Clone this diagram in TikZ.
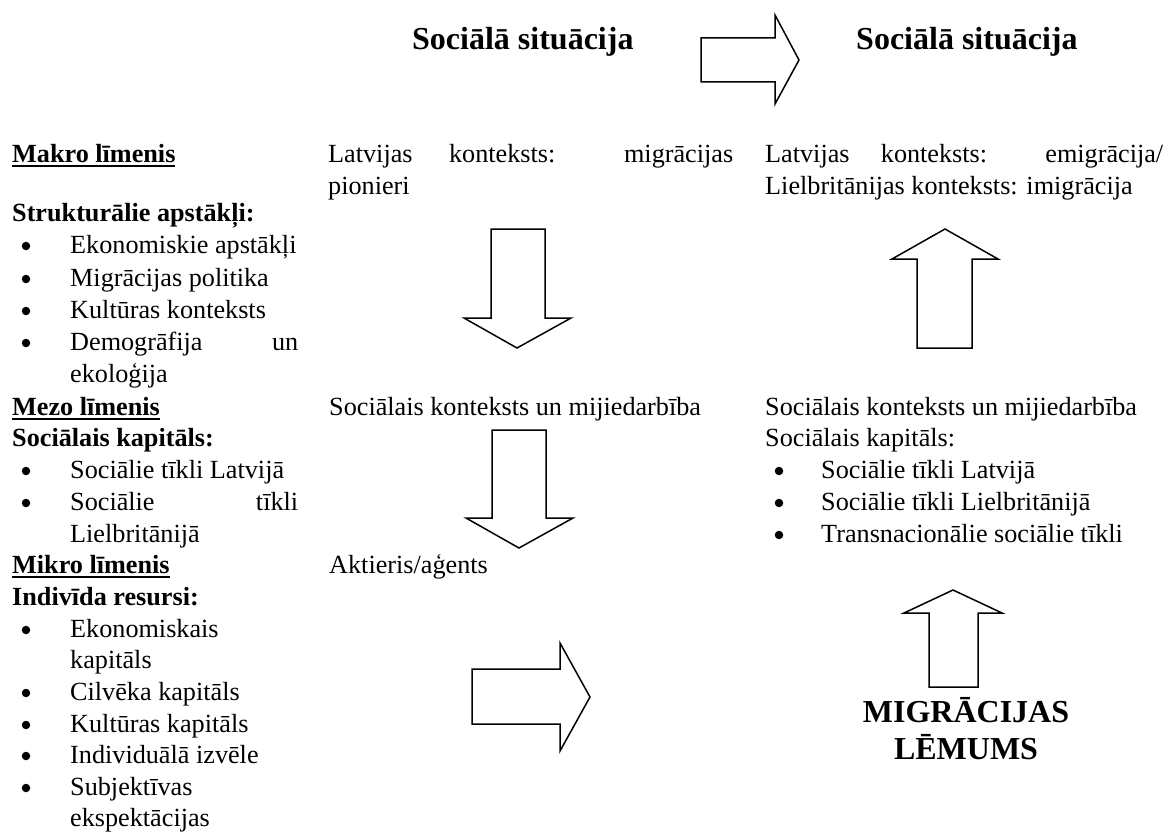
\documentclass[tikz,border=0pt]{standalone}
\usepackage{fontspec}
\setmainfont{Liberation Serif}
\newcommand\myul[1]{\sbox0{#1}\rlap{\rule[-5pt]{\wd0}{2pt}}\usebox0}
\begin{document}
\begin{tikzpicture}[x=1pt,y=-1pt,
  txt/.style={anchor=base west, inner sep=0pt, font=\fontsize{26.2}{32}\selectfont},
  hd/.style={anchor=base west, inner sep=0pt, font=\fontsize{26.2}{32}\selectfont\bfseries},
  bul/.style={circle, fill=black, inner sep=0pt, minimum size=8.5pt},
  ttl/.style={anchor=base west, inner sep=0pt, font=\fontsize{32}{38}\selectfont\bfseries},
  big/.style={anchor=base, inner sep=0pt, font=\fontsize{32}{37}\selectfont\bfseries},
  blockarrow/.style={draw=black, line width=1.5pt, fill=white, line join=miter}]
\useasboundingbox[fill=white] (0,0) rectangle (1172,832);

% titles
\node[ttl] (t1) at (412,50) {Sociālā situācija};
\node[ttl] (t2) at (856,50) {Sociālā situācija};

% left column
\node[hd] (makro) at (12,162) {\myul{Makro līmenis}};
\node[hd] (strukt) at (12,221) {Strukturālie apstākļi:};
\node[bul] (b1) at (26,246) {}; \node[txt] (l1) at (70,253) {Ekonomiskie apstākļi};
\node[bul] (b2) at (26,279) {}; \node[txt] (l2) at (70,286) {Migrācijas politika};
\node[bul] (b3) at (26,311) {}; \node[txt] (l3) at (70,318) {Kultūras konteksts};
\node[bul] (b4) at (26,343) {}; \node[txt] (l4) at (70,350) {\makebox[228pt][s]{Demogrāfija un}};
\node[txt] (l4b) at (70,382) {ekoloģija};
\node[hd] (mezo) at (12,415) {\myul{Mezo līmenis}};
\node[hd] (sockap) at (12,446) {Sociālais kapitāls:};
\node[bul] (b5) at (26,471) {}; \node[txt] (l5) at (70,478) {Sociālie tīkli Latvijā};
\node[bul] (b6) at (26,503) {}; \node[txt] (l6) at (70,510) {\makebox[228pt][s]{Sociālie tīkli}};
\node[txt] (l6b) at (70,542) {Lielbritānijā};
\node[hd] (mikro) at (12,573) {\myul{Mikro līmenis}};
\node[hd] (indiv) at (12,605) {Indivīda resursi:};
\node[bul] (b7) at (26,630) {}; \node[txt] (l7) at (70,637) {Ekonomiskais};
\node[txt] (l7b) at (70,668) {kapitāls};
\node[bul] (b8) at (26,693) {}; \node[txt] (l8) at (70,700) {Cilvēka kapitāls};
\node[bul] (b9) at (26,725) {}; \node[txt] (l9) at (70,732) {Kultūras kapitāls};
\node[bul] (b10) at (26,756) {}; \node[txt] (l10) at (70,763) {Individuālā izvēle};
\node[bul] (b11) at (26,788) {}; \node[txt] (l11) at (70,795) {Subjektīvas};
\node[txt] (l11b) at (70,826) {ekspektācijas};

% middle column
\node[txt] (m1) at (328,162) {\makebox[405pt][s]{Latvijas konteksts: migrācijas}};
\node[txt] (m1b) at (328,194) {pionieri};
\node[txt] (m2) at (329,415) {Sociālais konteksts un mijiedarbība};
\node[txt] (m3) at (329,573) {Aktieris/aģents};

% right column
\node[txt] (r1) at (765,162) {\makebox[398pt][s]{Latvijas konteksts: emigrācija/}};
\node[txt] (r1b) at (765,194) {Lielbritānijas konteksts: imigrācija};
\node[txt] (r2) at (765,415) {Sociālais konteksts un mijiedarbība};
\node[txt] (r3) at (765,446) {Sociālais kapitāls:};
\node[bul] (rb1) at (779,471) {}; \node[txt] (r4) at (821,478) {Sociālie tīkli Latvijā};
\node[bul] (rb2) at (779,503) {}; \node[txt] (r5) at (821,510) {Sociālie tīkli Lielbritānijā};
\node[bul] (rb3) at (779,535) {}; \node[txt] (r6) at (821,542) {Transnacionālie sociālie tīkli};

\node[big] (dec1) at (966,722) {MIGRĀCIJAS};
\node[big] (dec2) at (966,759) {LĒMUMS};

% block arrows
\draw[blockarrow] (701,38) -- (775,38) -- (775,15) -- (799,60) -- (775,104) -- (775,82) -- (701,82) -- cycle;
\draw[blockarrow] (491,229) -- (545,229) -- (545,318) -- (571,318) -- (517,348) -- (464,318) -- (491,318) -- cycle;
\draw[blockarrow] (917,348) -- (917,259) -- (892,259) -- (945,229) -- (998,259) -- (972,259) -- (972,348) -- cycle;
\draw[blockarrow] (492,430) -- (546,430) -- (546,518) -- (573,518) -- (519,548) -- (466,518) -- (492,518) -- cycle;
\draw[blockarrow] (472,669) -- (560,669) -- (560,643) -- (590,697) -- (560,751) -- (560,724) -- (472,724) -- cycle;
\draw[blockarrow] (929,687) -- (929,613) -- (904,613) -- (953,590) -- (1002,613) -- (978,613) -- (978,687) -- cycle;
\end{tikzpicture}
\end{document}
